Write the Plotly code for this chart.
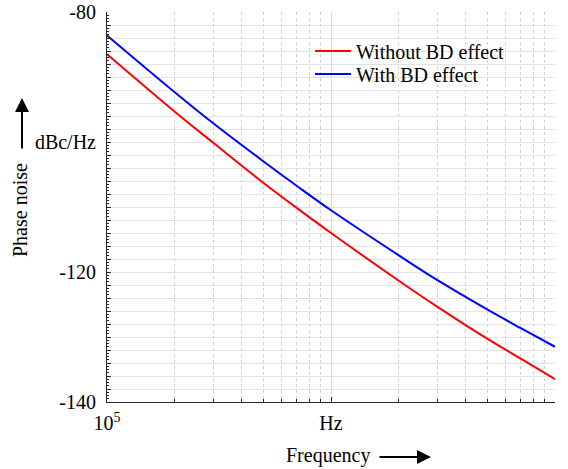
import plotly.graph_objects as go

freq = [1e5, 2e5, 3e5, 5e5, 7e5, 1e6, 2e6, 3e6, 5e6, 7e6, 1e7]
pn_without_bd = [-86.5, -95.3, -100.2, -106.3, -110.1, -114.0, -121.3, -125.4, -130.3, -133.3, -136.5]
pn_with_bd = [-83.6, -92.3, -97.2, -103.0, -106.7, -110.5, -117.4, -121.3, -125.8, -128.6, -131.5]

x_tickvals = [1e5, 1e6, 1e7]
x_ticktext = ["10<sup>5</sup>", "Hz", "10<sup>7</sup>"]
y_tickvals = list(range(-140, -79, 2))
y_labels = {-80: "-80", -100: "dBc/Hz", -120: "-120", -140: "-140"}
y_ticktext = [y_labels.get(v, "") for v in y_tickvals]

FONT = "'Liberation Serif', 'Times New Roman', Times, serif"
W, H = 568, 469
L, R, T, B = 107, 13, 12, 67
pw, ph = W - L - R, H - T - B


def lx(px):
    return (px - L) / pw


def ly(py):
    return 1 - (py - T) / ph


fig = go.Figure()
fig.add_trace(go.Scatter(x=freq, y=pn_without_bd, mode="lines", name="Without BD effect",
                         line=dict(color="#ff0000", width=2, shape="spline"), legend="legend"))
fig.add_trace(go.Scatter(x=freq, y=pn_with_bd, mode="lines", name="With BD effect",
                         line=dict(color="#0000ff", width=2, shape="spline"), legend="legend2"))

common_leg = dict(bgcolor="rgba(0,0,0,0)", borderwidth=0, font=dict(family=FONT, size=20, color="black"),
                  xanchor="left", yanchor="middle", itemwidth=36)

fig.update_layout(
    width=W, height=H,
    margin=dict(l=L, r=R, t=T, b=B, autoexpand=False),
    paper_bgcolor="white", plot_bgcolor="white",
    font=dict(family=FONT, size=20, color="black"),
    legend=dict(x=lx(310), y=ly(51), **common_leg),
    legend2=dict(x=lx(310), y=ly(74), **common_leg),
    xaxis=dict(type="log", range=[5, 7], tickvals=x_tickvals, ticktext=x_ticktext, automargin=False,
               ticks="inside", ticklen=5, tickcolor="#262626", linecolor="#262626", linewidth=1,
               showline=True, showgrid=True, gridcolor="#dadada", gridwidth=1, zeroline=False,
               ticklabelstandoff=3,
               minor=dict(dtick="D1", ticks="inside", ticklen=3, tickcolor="#262626",
                          showgrid=True, gridcolor="#cfcfcf", griddash="dot", gridwidth=1),
               tickfont=dict(family=FONT, size=20, color="black")),
    yaxis=dict(range=[-140, -80], tickvals=y_tickvals, ticktext=y_ticktext, automargin=False,
               ticks="inside", ticklen=4, tickcolor="#262626", linecolor="#262626", linewidth=1,
               showline=True, showgrid=True, gridcolor="#e3e3e3", gridwidth=1, zeroline=False,
               ticklabelstandoff=6,
               minor=dict(dtick=0.5, ticks="inside", ticklen=2, tickcolor="#262626", showgrid=False),
               tickfont=dict(family=FONT, size=20, color="black")),
    xaxis2=dict(type="log", range=[5, 7], overlaying="x", side="top", anchor="y", automargin=False,
                showline=True, linecolor="#8a8a8a", linewidth=1, showgrid=False, zeroline=False,
                showticklabels=False, tickvals=x_tickvals, ticks="inside", ticklen=5, tickcolor="#262626",
                minor=dict(dtick="D1", ticks="inside", ticklen=3, tickcolor="#262626", showgrid=False)),
    yaxis2=dict(range=[-140, -80], overlaying="y", side="right", anchor="x", automargin=False,
                showline=True, linecolor="#8a8a8a", linewidth=1, showgrid=False, zeroline=False,
                showticklabels=False, tickvals=y_tickvals, ticks="inside", ticklen=4, tickcolor="#262626",
                minor=dict(dtick=0.5, ticks="inside", ticklen=2, tickcolor="#262626", showgrid=False)),
    showlegend=True,
)

# white legend box background
fig.add_shape(type="rect", xref="paper", yref="paper", x0=lx(305), x1=lx(520), y0=ly(92), y1=ly(37),
              fillcolor="white", line=dict(width=0), layer="between")

annotations = [
    dict(text="Phase noise", x=lx(20), y=ly(210), xref="paper", yref="paper",
         showarrow=False, textangle=-90, font=dict(family=FONT, size=20, color="black"),
         xanchor="center", yanchor="middle"),
    dict(text="Frequency", x=lx(328), y=ly(455), xref="paper", yref="paper",
         showarrow=False, font=dict(family=FONT, size=20, color="black"),
         xanchor="center", yanchor="middle"),
    dict(text="", x=lx(22), y=ly(98), ax=0, ay=52, xref="paper", yref="paper",
         showarrow=True, arrowhead=2, arrowsize=1.4, arrowwidth=2, arrowcolor="black"),
    dict(text="", x=lx(431), y=ly(457), ax=-53, ay=0, xref="paper", yref="paper",
         showarrow=True, arrowhead=2, arrowsize=1.4, arrowwidth=2, arrowcolor="black"),
]
fig.update_layout(annotations=annotations)

fig.write_html("out.html")
